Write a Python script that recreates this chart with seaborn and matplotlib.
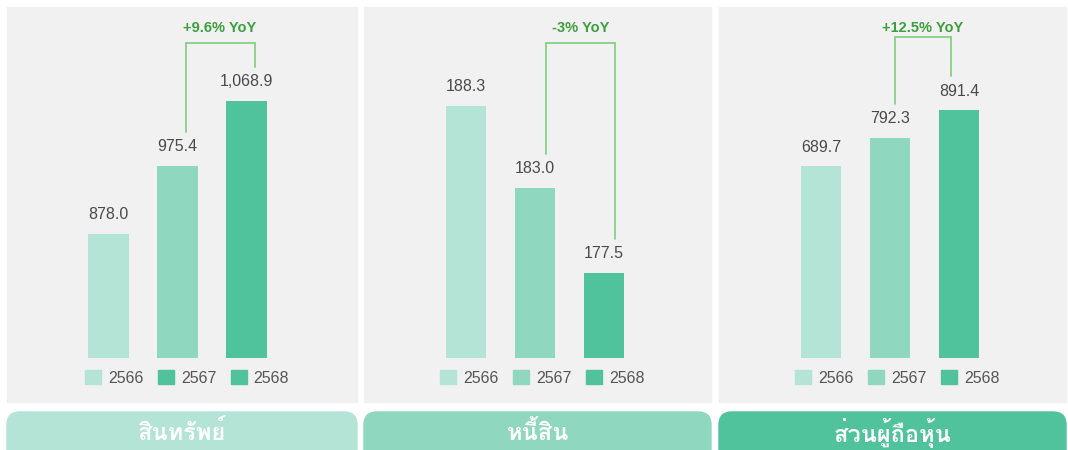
import matplotlib
matplotlib.use("Agg")
import matplotlib.pyplot as plt
import matplotlib.transforms as mtransforms
from matplotlib import font_manager
from matplotlib.ft2font import FT2Font
from matplotlib.patches import Rectangle, FancyBboxPatch, Patch
import seaborn as sns
import pandas as pd

years = ["2566", "2567", "2568"]
titles = ["สินทรัพย์", "หนี้สิน", "ส่วนผู้ถือหุ้น"]
assets = [878.0, 975.4, 1068.9]
liabilities = [188.3, 183.0, 177.5]
equity = [689.7, 792.3, 891.4]
yoy_labels = ["+9.6% YoY", "-3% YoY", "+12.5% YoY"]

bar_colors = ["#b3e4d5", "#8fd8bf", "#50c29c"]
legend_colors = [["#b3e4d5", "#50c29c", "#50c29c"], bar_colors, bar_colors]
banner_colors = ["#b3e4d5", "#8fd8bf", "#50c29c"]
ylims = [(700, 1203.6), (172, 194.7), (0, 1264)]

sns.set_style("white")

# find something that can draw thai
thai_font = None
for f in font_manager.fontManager.ttflist:
    try:
        if 0x0E2A in FT2Font(f.fname).get_charmap():
            thai_font = f.name
            break
    except Exception:
        pass
plt.rcParams["font.family"] = ["Liberation Sans", "DejaVu Sans"]
title_family = [thai_font, "DejaVu Sans"] if thai_font else ["DejaVu Sans"]

W, H = 1068, 450
fig = plt.figure(figsize=(W / 100, H / 100), dpi=100)

panels = [(7, 357), (364, 711), (719, 1066)]
bar_centers = [177.5, 535, 890]
series = [assets, liabilities, equity]
# bracket legs are not quite on the bar centres in the original (pixels)
leg_shift = [(8, 8), (11, 11), (5, -8)]
bracket_top = [0.897, 0.897, 0.915]

for i in range(3):
    x0, x1 = panels[i]
    # gray panel
    fig.patches.append(Rectangle((x0 / W, 48 / H), (x1 - x0) / W, 395 / H,
                                 transform=fig.transFigure, color="#f1f1f1", zorder=-2))
    # banner, runs off the bottom edge
    fig.patches.append(FancyBboxPatch((x0 / W, -20 / H), (x1 - x0) / W, 58 / H,
                                      boxstyle="round,pad=0,rounding_size=0.012",
                                      transform=fig.transFigure, color=banner_colors[i],
                                      mutation_aspect=W / H, zorder=-2))
    fig.text((x0 + x1) / 2 / W, 17 / H, titles[i], ha="center", va="center",
             color="white", fontsize=17, fontweight="bold", family=title_family)

    df = pd.DataFrame({"year": years, "value": series[i]})
    ax = fig.add_axes([(bar_centers[i] - 103.5) / W, 92 / H, 207 / W, 351 / H])
    sns.barplot(data=df, x="year", y="value", hue="year", palette=bar_colors,
                width=0.59, legend=False, ax=ax, saturation=1, linewidth=0)
    ax.set_ylim(*ylims[i])
    ax.set_xlim(-0.5, 2.5)
    ax.axis("off")
    for c in ax.containers:
        ax.bar_label(c, fmt="{:,.1f}", padding=8.5, fontsize=11.5, color="#4a4a4a")

    # yoy bracket
    top = bracket_top[i]
    inv = ax.transAxes.inverted()
    xs = []
    for k, j in enumerate((1, 2)):
        px = ax.transData.transform((j, series[i][j]))
        px = (px[0] + leg_shift[i][k], px[1] + 34)
        xa, ya = inv.transform(px)
        xs.append(xa)
        ax.plot([xa, xa], [ya, top], transform=ax.transAxes, color="#7dcc7d",
                lw=1.2, clip_on=False)
    ax.plot(xs, [top, top], transform=ax.transAxes, color="#7dcc7d", lw=1.2, clip_on=False)
    ax.text(sum(xs) / 2, 0.94, yoy_labels[i], transform=ax.transAxes, ha="center",
            va="center", color="#3d9e3d", fontsize=10.5, fontweight="bold")

    handles = [Patch(color=c, label=y) for c, y in zip(legend_colors[i], years)]
    fig.legend(handles=handles, loc="center", ncol=3, frameon=False,
               bbox_to_anchor=(((x0 + x1) / 2 + 5) / W, 72 / H), fontsize=11.5,
               handlelength=1.0, handleheight=1.0, handletextpad=0.45,
               columnspacing=0.9, labelcolor="#555555")

fig.savefig("out.png", dpi=100, facecolor="white")
